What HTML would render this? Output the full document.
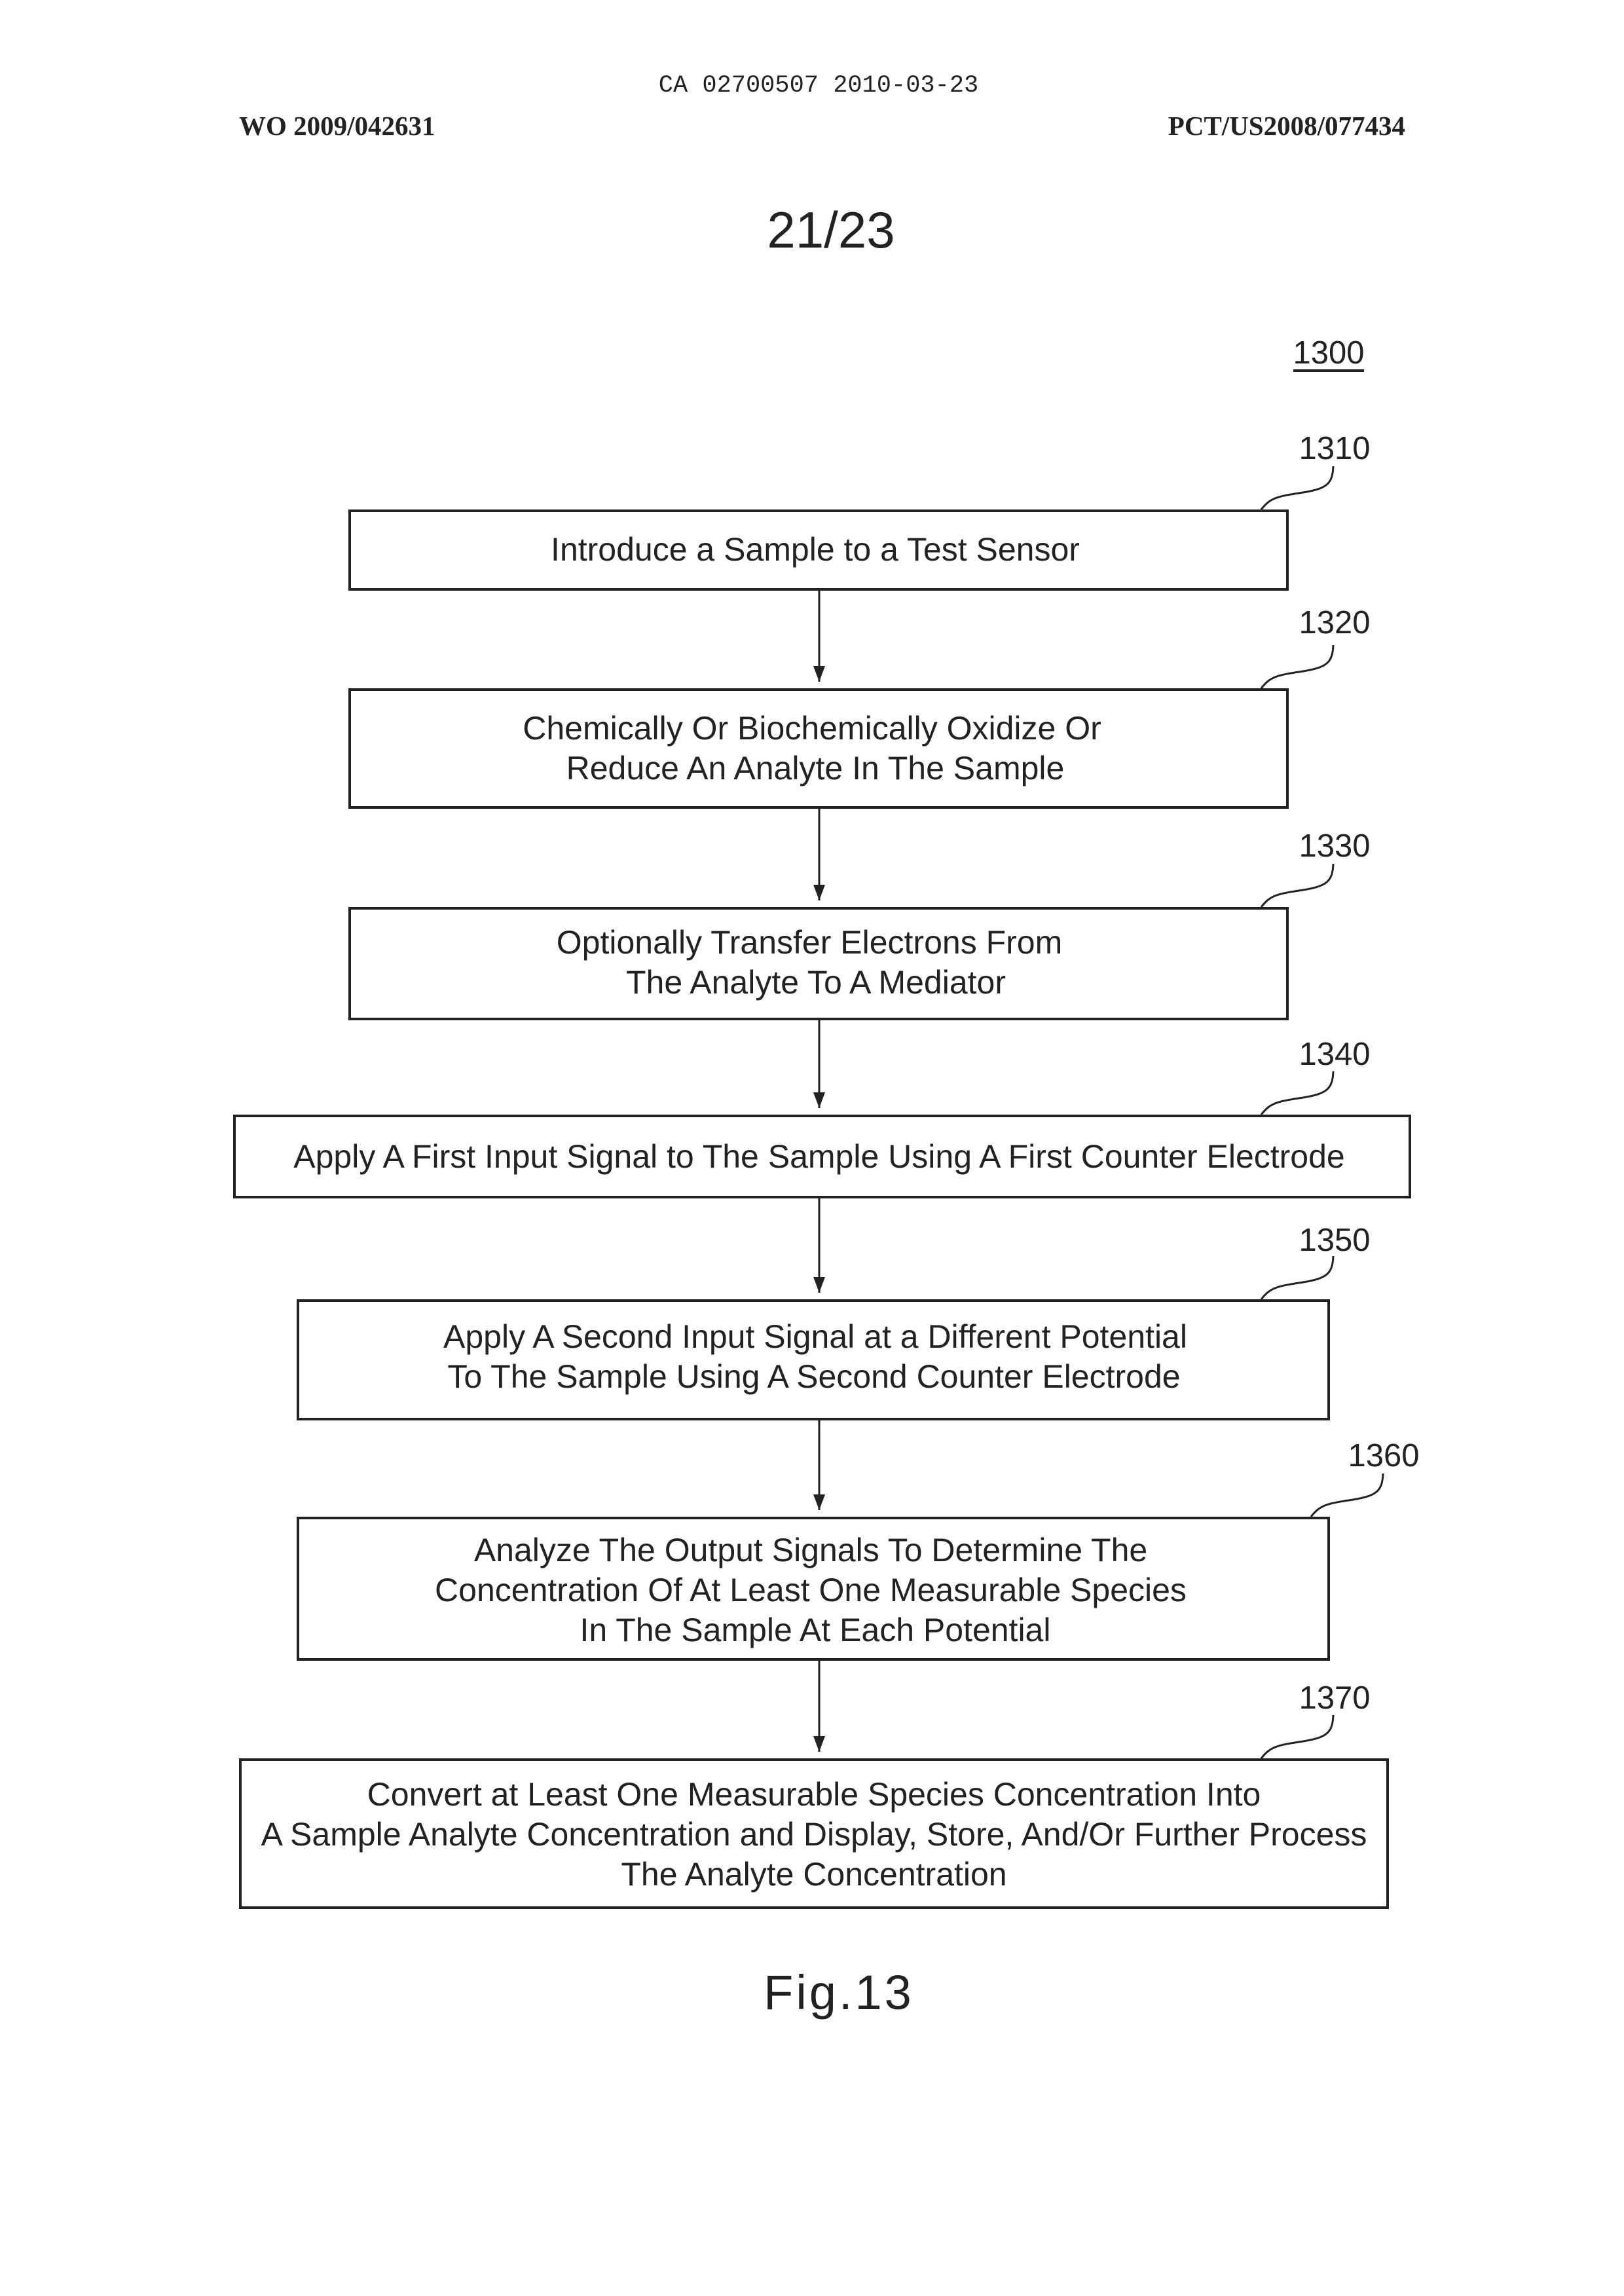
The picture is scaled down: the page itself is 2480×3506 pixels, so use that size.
<!DOCTYPE html>
<html><head><meta charset="utf-8"><style>
html,body{margin:0;padding:0;background:#fff;}
svg{display:block}
text{font-family:"Liberation Sans",sans-serif;fill:#222}
</style></head><body>
<svg width="2480" height="3506" viewBox="0 0 2480 3506" xmlns="http://www.w3.org/2000/svg">
<defs>
<marker id="ar" markerWidth="20" markerHeight="24" refX="10" refY="24" orient="0" markerUnits="userSpaceOnUse"><path d="M1,0 L10,24 L19,0 Z" fill="#222"/></marker></defs>
<text x="1250" y="140" font-size="37" text-anchor="middle" style="font-family:'Liberation Mono',monospace">CA 02700507 2010-03-23</text>
<text x="365" y="206" font-size="41" font-weight="bold" style="font-family:'Liberation Serif',serif">WO 2009/042631</text>
<text x="2146" y="206" font-size="41" font-weight="bold" text-anchor="end" style="font-family:'Liberation Serif',serif">PCT/US2008/077434</text>
<text x="1269" y="378" font-size="78" text-anchor="middle">21/23</text>
<text x="2029" y="555" font-size="49" text-anchor="middle">1300</text>
<line x1="1975" y1="566" x2="2083" y2="566" stroke="#222" stroke-width="4"/>
<g fill="none" stroke="#222" stroke-width="4">
<rect x="534" y="780" width="1432" height="120"/>
<rect x="534" y="1053" width="1432" height="180"/>
<rect x="534" y="1387" width="1432" height="169"/>
<rect x="358" y="1704" width="1795" height="124"/>
<rect x="455" y="1986" width="1574" height="181"/>
<rect x="455" y="2318" width="1574" height="216"/>
<rect x="367" y="2687" width="1752" height="226"/>
<g stroke-width="3">
<line x1="1251" y1="900" x2="1251" y2="1041" marker-end="url(#ar)"/>
<line x1="1251" y1="1233" x2="1251" y2="1375" marker-end="url(#ar)"/>
<line x1="1251" y1="1556" x2="1251" y2="1692" marker-end="url(#ar)"/>
<line x1="1251" y1="1828" x2="1251" y2="1974" marker-end="url(#ar)"/>
<line x1="1251" y1="2167" x2="1251" y2="2306" marker-end="url(#ar)"/>
<line x1="1251" y1="2534" x2="1251" y2="2675" marker-end="url(#ar)"/>
<path d="M1926,778 C1940,760 1950,758 1990,752 C2025,746 2035,740 2036,712"/>
<path d="M1926,1051 C1940,1033 1950,1031 1990,1025 C2025,1019 2035,1013 2036,985"/>
<path d="M1926,1385 C1940,1367 1950,1365 1990,1359 C2025,1353 2035,1347 2036,1319"/>
<path d="M1926,1702 C1940,1684 1950,1682 1990,1676 C2025,1670 2035,1664 2036,1636"/>
<path d="M1926,1984 C1940,1966 1950,1964 1990,1958 C2025,1952 2035,1946 2036,1918"/>
<path d="M2002,2316 C2016,2298 2026,2296 2066,2290 C2101,2284 2111,2278 2112,2250"/>
<path d="M1926,2685 C1940,2667 1950,2665 1990,2659 C2025,2653 2035,2647 2036,2619"/>
</g></g>
<g font-size="49" text-anchor="middle">
<text x="2038" y="701">1310</text>
<text x="2038" y="967">1320</text>
<text x="2038" y="1308">1330</text>
<text x="2038" y="1626">1340</text>
<text x="2038" y="1910">1350</text>
<text x="2113" y="2239">1360</text>
<text x="2038" y="2609">1370</text>
</g>
<g font-size="50" text-anchor="middle">
<text x="1245" y="856">Introduce a Sample to a Test Sensor</text>
<text x="1240" y="1129">Chemically Or Biochemically Oxidize Or</text>
<text x="1245" y="1190">Reduce An Analyte In The Sample</text>
<text x="1236" y="1456">Optionally Transfer Electrons From</text>
<text x="1246" y="1517">The Analyte To A Mediator</text>
<text x="1251" y="1783">Apply A First Input Signal to The Sample Using A First Counter Electrode</text>
<text x="1245" y="2058">Apply A Second Input Signal at a Different Potential</text>
<text x="1243" y="2119">To The Sample Using A Second Counter Electrode</text>
<text x="1238" y="2384">Analyze The Output Signals To Determine The</text>
<text x="1238" y="2445">Concentration Of At Least One Measurable Species</text>
<text x="1245" y="2506">In The Sample At Each Potential</text>
<text x="1243" y="2757">Convert at Least One Measurable Species Concentration Into</text>
<text x="1243" y="2818">A Sample Analyte Concentration and Display, Store, And/Or Further Process</text>
<text x="1243" y="2879">The Analyte Concentration</text>
</g>
<text x="1281" y="3068" font-size="74" text-anchor="middle" letter-spacing="4">Fig.13</text>
</svg>
</body></html>
